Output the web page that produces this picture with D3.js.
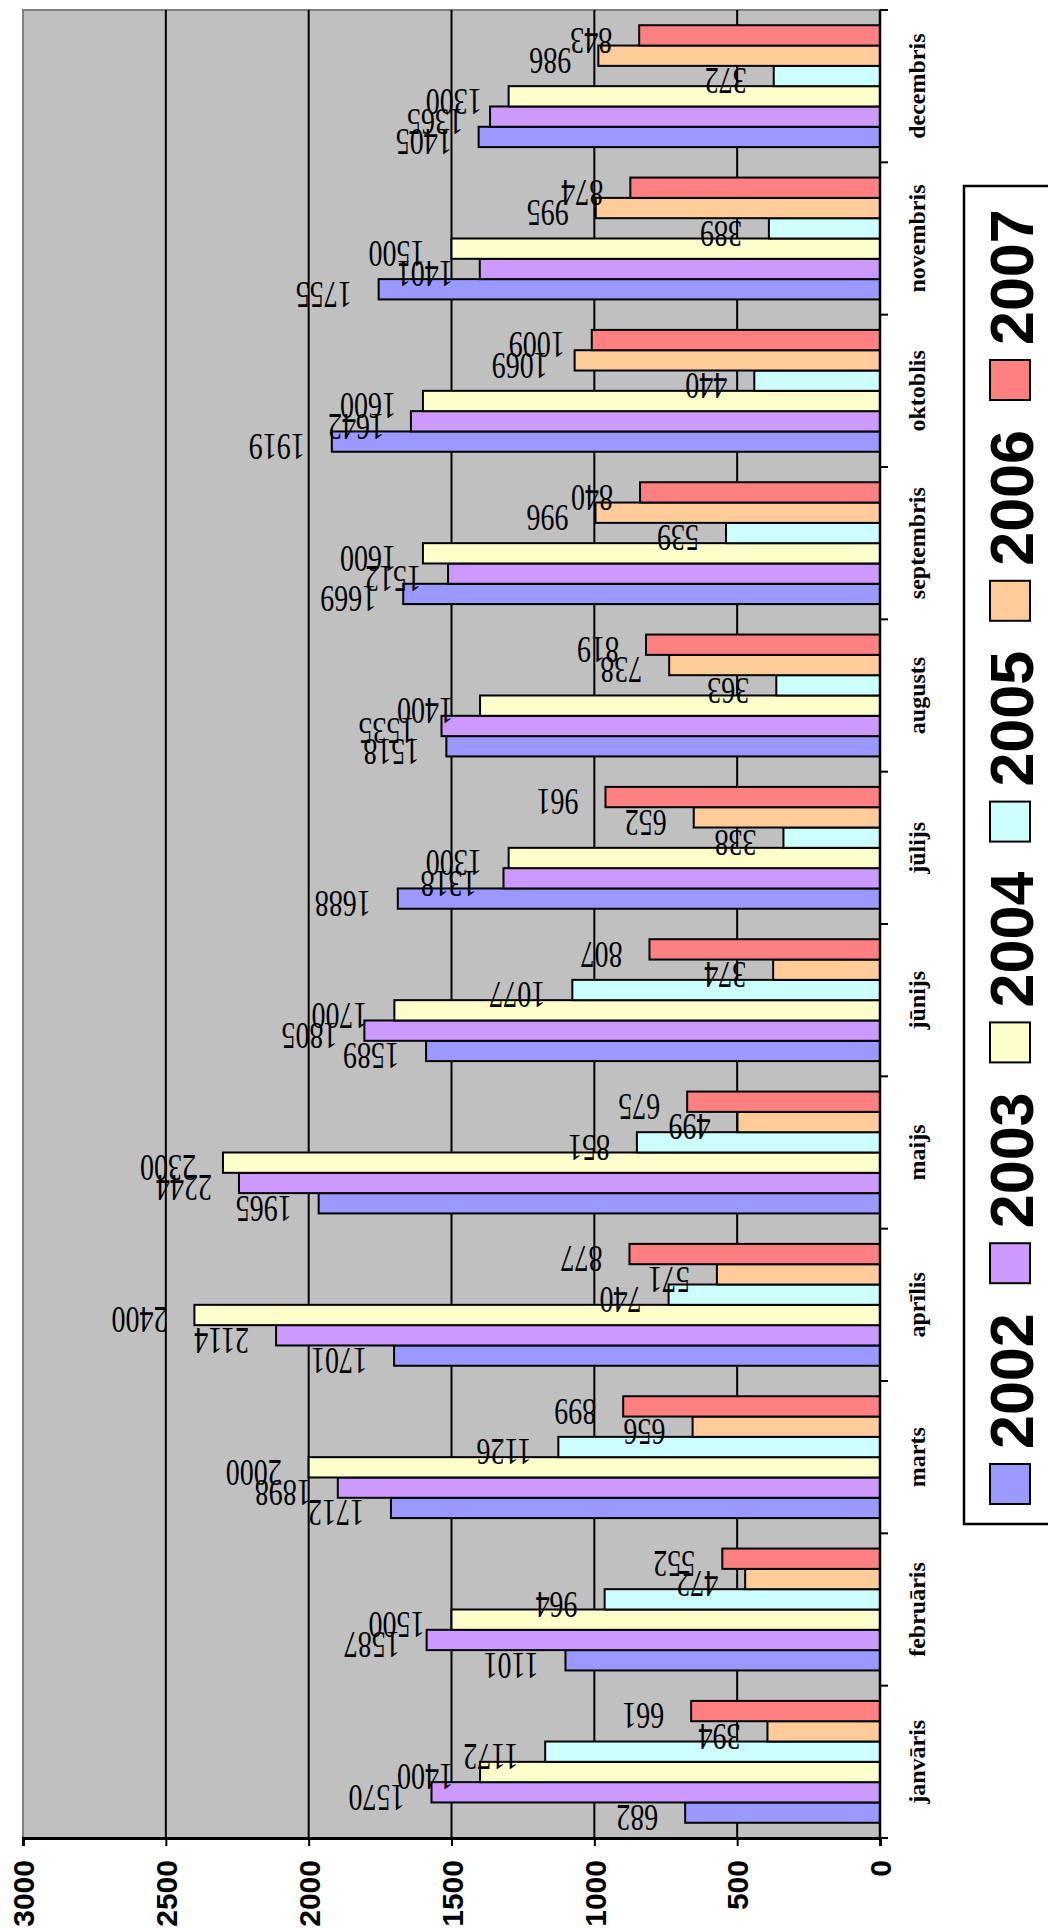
<!DOCTYPE html>
<html>
<head>
<meta charset="utf-8">
<script src="https://cdn.jsdelivr.net/npm/d3@7"></script>
<style>
  html, body { margin: 0; padding: 0; background: #ffffff; }
  svg { display: block; }
</style>
</head>
<body>
<svg id="chart" width="1048" height="1928"></svg>
<script>
const months = ["janvāris","februāris","marts","aprīlis","maijs","jūnijs","jūlijs","augusts","septembris","oktoblis","novembris","decembris"];
const years = ["2002","2003","2004","2005","2006","2007"];
const v2002 = [682,1101,1712,1701,1965,1589,1688,1518,1669,1919,1755,1405];
const v2003 = [1570,1587,1898,2114,2244,1805,1318,1535,1512,1642,1401,1365];
const v2004 = [1400,1500,2000,2400,2300,1700,1300,1400,1600,1600,1500,1300];
const v2005 = [1172,964,1126,740,851,1077,338,363,539,440,389,372];
const v2006 = [394,472,656,571,499,374,652,738,996,1069,995,986];
const v2007 = [661,552,899,877,675,807,961,819,840,1009,874,843];
const valueTicks = [0,500,1000,1500,2000,2500,3000];
const colors = ["#9999FF","#CC99FF","#FFFFCC","#CCFFFF","#FFCC99","#FF8080"];

const seriesValues = [v2002, v2003, v2004, v2005, v2006, v2007];
const data = months.map((m, i) => ({ month: m, values: years.map((yr, j) => ({ year: yr, value: seriesValues[j][i], color: colors[j] })) }));

const svg = d3.select("#chart");
const plotLeft = 23, plotRight = 880, plotTop = 10, plotBottom = 1838;

const x = d3.scaleLinear().domain([0, 3000]).range([plotRight, plotLeft]);
const y = d3.scaleBand().domain(months.slice().reverse()).range([plotTop, plotBottom]).paddingInner(0).paddingOuter(0);
const yInner = d3.scaleBand().domain(years.slice().reverse()).range([0, y.bandwidth()]).paddingInner(0).paddingOuter(0.75);

// plot area
svg.append("rect")
  .attr("x", plotLeft).attr("y", plotTop)
  .attr("width", plotRight - plotLeft).attr("height", plotBottom - plotTop)
  .attr("fill", "#C0C0C0").attr("stroke", "#808080").attr("stroke-width", 2);

// gridlines
svg.append("g").selectAll("line")
  .data(valueTicks.filter(t => t > 0 && t < 3000))
  .join("line")
  .attr("x1", d => x(d)).attr("x2", d => x(d))
  .attr("y1", plotTop).attr("y2", plotBottom)
  .attr("stroke", "#000").attr("stroke-width", 2);

// bars
const groups = svg.append("g").selectAll("g")
  .data(data).join("g")
  .attr("transform", d => `translate(0,${y(d.month)})`);

groups.selectAll("rect")
  .data(d => d.values).join("rect")
  .attr("x", d => x(d.value))
  .attr("y", d => yInner(d.year))
  .attr("width", d => x(0) - x(d.value))
  .attr("height", yInner.bandwidth())
  .attr("fill", d => d.color)
  .attr("stroke", "#000").attr("stroke-width", 2);

// data labels (upside-down, slightly stretched)
groups.selectAll("text")
  .data(d => d.values).join("text")
  .attr("transform", d => `translate(${x(d.value) - 27},${yInner(d.year) + 2.5}) rotate(180) scale(1,1.35)`)
  .attr("text-anchor", "start")
  .attr("font-family", "'Liberation Serif', 'Times New Roman', serif")
  .attr("font-size", 28)
  .attr("fill", "#000")
  .text(d => d.value);

// value axis (bottom)
const xAxis = d3.axisBottom(x).tickValues(valueTicks).tickSize(8).tickFormat(d => d);
const gx = svg.append("g").attr("transform", `translate(0,${plotBottom})`).call(xAxis);
gx.select(".domain").attr("stroke", "#000").attr("stroke-width", 3);
gx.selectAll(".tick line").attr("stroke", "#000").attr("stroke-width", 2);
gx.selectAll(".tick text")
  .attr("transform", "rotate(-90)")
  .attr("x", -22).attr("y", 0).attr("dy", "0.36em")
  .attr("text-anchor", "end")
  .attr("font-family", "'Liberation Sans', Arial, sans-serif")
  .attr("font-weight", "bold")
  .attr("font-size", 30)
  .attr("fill", "#000");

// category axis (right)
const gy = svg.append("g");
gy.append("line")
  .attr("x1", plotRight).attr("x2", plotRight)
  .attr("y1", plotTop).attr("y2", plotBottom)
  .attr("stroke", "#000").attr("stroke-width", 2.5);
const boundaries = months.map(m => y(m)).concat([plotBottom]);
gy.selectAll("line.tk").data(boundaries).join("line")
  .attr("class", "tk")
  .attr("x1", plotRight).attr("x2", plotRight + 8)
  .attr("y1", d => d).attr("y2", d => d)
  .attr("stroke", "#000").attr("stroke-width", 2);
gy.selectAll("text").data(months).join("text")
  .attr("transform", d => `translate(925,${y(d) + y.bandwidth() / 2}) rotate(-90)`)
  .attr("text-anchor", "middle")
  .attr("font-family", "'Liberation Serif', 'Times New Roman', serif")
  .attr("font-weight", "bold")
  .attr("font-size", 24)
  .attr("fill", "#000")
  .text(d => d);

// legend
const legend = svg.append("g");
legend.append("rect")
  .attr("x", 964).attr("y", 186)
  .attr("width", 120).attr("height", 1524 - 186)
  .attr("fill", "#fff").attr("stroke", "#000").attr("stroke-width", 2.5);
const legStep = 220.8, legBase = 1464;
const items = legend.selectAll("g.item").data(years).join("g").attr("class", "item");
items.append("rect")
  .attr("x", 990).attr("y", (d, i) => legBase - i * legStep)
  .attr("width", 40).attr("height", 40)
  .attr("fill", (d, i) => colors[i])
  .attr("stroke", "#000").attr("stroke-width", 2);
items.append("text")
  .attr("transform", (d, i) => `translate(1033,${legBase - i * legStep - 15}) rotate(-90)`)
  .attr("text-anchor", "start")
  .attr("font-family", "'Liberation Sans', Arial, sans-serif")
  .attr("font-weight", "bold")
  .attr("font-size", 61)
  .attr("fill", "#000")
  .text(d => d);
</script>
</body>
</html>
